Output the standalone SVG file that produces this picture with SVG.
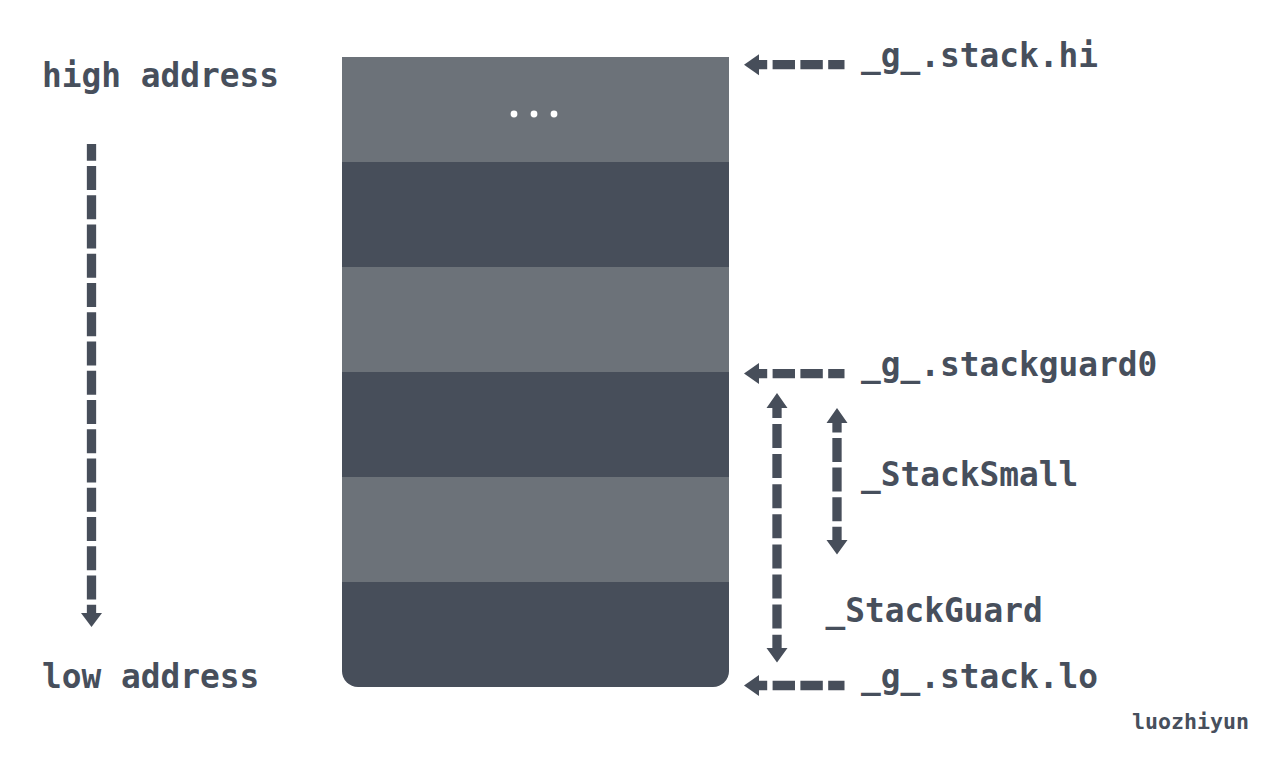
<svg xmlns="http://www.w3.org/2000/svg" width="1269" height="765" viewBox="0 0 1269 765">
<style>
text{font-family:"DejaVu Sans Mono","Liberation Mono",monospace;font-weight:bold;fill:#474f5c}
.l{font-size:32.8px}
.c{stroke:#474e5a;stroke-width:9.300;fill:none}
.a{stroke-dasharray:22.400 5.400;stroke-dashoffset:6.100}
.h{fill:#474e5a}
.lt{fill:#6c7279}.dk{fill:#474e5a}
</style>
<rect width="1269" height="765" fill="#fff"/>
<g id="stack">
<rect class="lt" x="342" y="57" width="387" height="105"/>
<rect class="dk" x="342" y="162" width="387" height="105"/>
<rect class="lt" x="342" y="267" width="387" height="105"/>
<rect class="dk" x="342" y="372" width="387" height="105"/>
<rect class="lt" x="342" y="477" width="387" height="105"/>
<path class="dk" d="M342 582H729V671a16 16 0 0 1-16 16H358a16 16 0 0 1-16-16Z"/>
<circle cx="514" cy="114" r="3.400" fill="#fff"/><circle cx="534" cy="114" r="3.400" fill="#fff"/><circle cx="554" cy="114" r="3.400" fill="#fff"/>
</g>
<g id="connectors">
<path class="c" d="M91.500 144V614" stroke-dasharray="24 5.250" stroke-dashoffset="7.300"/><path class="h" d="M91.500 627l-10.500-14h21z"/>
<path class="c a" d="M844.500 64.700H758"/><path class="h" d="M744 64.700l15-10.500v21z"/>
<path class="c a" d="M844.500 373.600H758"/><path class="h" d="M744 373.600l15-10.500v21z"/>
<path class="c a" d="M844.500 685.500H758"/><path class="h" d="M744 685.500l15-10.500v21z"/>
<path class="c" d="M777 405.900V649" stroke-dasharray="24 6.100" stroke-dashoffset="12"/><path class="h" d="M777 393l-10.500 15h21zM777 662.500l-10.500-14.500h21z"/>
<path class="c" d="M837 420.400V541" stroke-dasharray="24 5.600" stroke-dashoffset="12"/><path class="h" d="M837 408l-10.500 15h21zM837 554.500l-10.500-14.500h21z"/>
</g>
<g id="labels">
<text class="l" x="42" y="87">high address</text>
<text class="l" x="42" y="687.500">low address</text>
<text class="l" x="861" y="67">_g_.stack.hi</text>
<text class="l" x="861" y="375.500">_g_.stackguard0</text>
<text class="l" x="861" y="486">_StackSmall</text>
<text class="l" x="825.500" y="621.500">_StackGuard</text>
<text class="l" x="861" y="688">_g_.stack.lo</text>
<text x="1132" y="729" font-size="21.600">luozhiyun</text>
</g>
</svg>
